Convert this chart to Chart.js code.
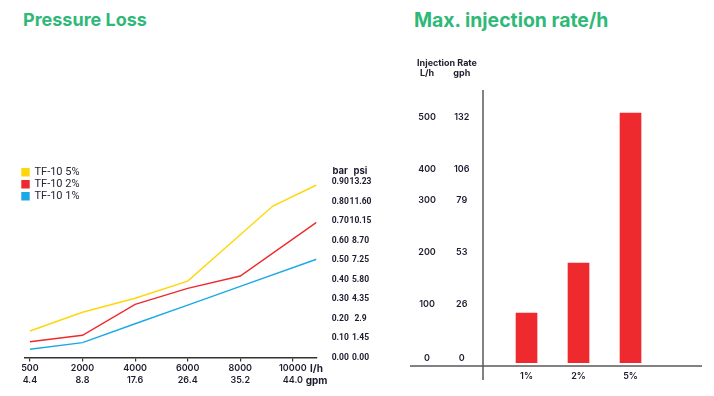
<!DOCTYPE html>
<html><head><meta charset="utf-8">
<script src="https://cdn.jsdelivr.net/npm/chart.js@4"></script>
<style>
html,body{margin:0;padding:0;background:#fff;width:714px;height:396px;overflow:hidden;font-family:Inter,sans-serif}
.t{position:absolute;font-weight:700;color:#2fb978;line-height:1;white-space:nowrap;font-family:Inter,sans-serif}
#w1{position:absolute;left:0;top:0;width:400px;height:396px}
#w2{position:absolute;left:400px;top:0;width:314px;height:396px}
</style></head><body>
<div class="t" style="left:23px;top:11px;font-size:18px">Pressure Loss</div>
<div class="t" style="left:414px;top:11px;font-size:19.4px">Max. injection rate/h</div>
<div id="w1"><canvas id="c1"></canvas></div>
<div id="w2"><canvas id="c2"></canvas></div>
<script>
// ---- Pressure loss data ----
const flowLh = ['500','2000','4000','6000','8000','10000'];
const flowGpm = ['4.4','8.8','17.6','26.4','35.2','44.0'];
const unitLabels = ['l/h','gpm'];
const barTicks = [0,0.1,0.2,0.3,0.4,0.5,0.6,0.7,0.8,0.9];
const barLabels = ['0.00','0.10','0.20','0.30','0.40','0.50','0.60','0.70','0.80','0.90'];
const psiLabels = ['0.00','1.45','2.9','4.35','5.80','7.25','8.70','10.15','11.60','13.23'];
const seriesNames = ['TF-10 5%','TF-10 2%','TF-10 1%'];
const tf5X = [0,1,2,3,4.62,5.45];
const tf5Y = [0.136,0.232,0.304,0.392,0.777,0.885];
const tf2X = [0,1,2,3,4,5.45];
const tf2Y = [0.081,0.114,0.273,0.355,0.418,0.693];
const tf1X = [0,1,2,3,4,5.45];
const tf1Y = [0.042,0.076,0.173,0.269,0.365,0.504];

// ---- Injection rate data ----
const injCategories = ['1%','2%','5%'];
const injValues = [100,200,500];
const injLh = ['0','100','200','300','400','500'];
const injGph = ['0','26','53','79','106','132'];
const injTickPos = [9,117,221,325,387,491];

const YEL = '#ffd60a', RED = '#ee2a2f', BLUE = '#1ba9e6';
const TXT = '#1f1a2e';
const FAM = 'Roboto, sans-serif';
const FAM2 = 'Inter, sans-serif';

function pts(xs, ys){ return xs.map((x,i)=>({x:x, y:ys[i]})); }
function widest(ctx, labels){ return Math.max(...labels.map(l=>ctx.measureText(l).width)); }

const colFont = {family: FAM, size: 8.5, weight: '700', lineHeight: 1.2};
const xFont = {family: FAM2, size: 9, weight: '600', lineHeight: 1.3};
const injFont = {family: FAM2, size: 9, weight: '600', lineHeight: 1.2};
const fstr = f => f.weight + ' ' + f.size + 'px ' + f.family;

const header1 = {
  id:'header1',
  afterLayout(chart){
    const l = chart.legend, a = chart.chartArea;
    l.top = a.top; l.bottom = a.bottom; l.left = a.left - 4;
  },
  afterDraw(chart){
    const ctx = chart.ctx, sb = chart.scales.yBar, sp = chart.scales.yPsi;
    ctx.save();
    ctx.font = fstr(colFont);
    const wb = widest(ctx, barLabels), wp = widest(ctx, psiLabels);
    ctx.font = '700 9.5px ' + FAM2;
    ctx.fillStyle = TXT; ctx.textAlign = 'center'; ctx.textBaseline = 'middle';
    const y = sb.getPixelForValue(barTicks[barTicks.length-1]) - 11;
    ctx.fillText('bar', sb.left + sb.options.ticks.padding + wb/2, y);
    ctx.fillText('psi', sp.left + sp.options.ticks.padding + wp/2, y);
    ctx.restore();
  }
};

const header2 = {
  id:'header2',
  beforeDatasetsDraw(chart){
    const ctx = chart.ctx, a = chart.chartArea, sl = chart.scales.yL, sg = chart.scales.yG;
    ctx.save();
    ctx.strokeStyle = '#5a5a5a'; ctx.lineWidth = 1.5;
    ctx.beginPath();
    ctx.moveTo(a.left, a.top); ctx.lineTo(a.left, a.bottom + 17);
    ctx.moveTo(sl.left, a.bottom + 3); ctx.lineTo(a.right, a.bottom + 3);
    ctx.stroke();
    ctx.font = fstr(injFont);
    const cl = sl.right - sl.options.ticks.padding - widest(ctx, injLh)/2;
    const cg = sg.right - sg.options.ticks.padding - widest(ctx, injGph)/2;
    ctx.font = '700 9px ' + FAM2;
    ctx.fillStyle = TXT; ctx.textBaseline = 'middle';
    ctx.textAlign = 'left';
    ctx.fillText('Injection Rate', cl - 10, 63);
    ctx.textAlign = 'center';
    ctx.fillText('L/h', cl, 73.5);
    ctx.fillText('gph', cg, 73.5);
    ctx.restore();
  }
};

new Chart(document.getElementById('c1'), {
  type: 'line',
  data: { datasets: [
    {label: seriesNames[0], data: pts(tf5X, tf5Y), borderColor: YEL, backgroundColor: YEL, yAxisID: 'yBar'},
    {label: seriesNames[1], data: pts(tf2X, tf2Y), borderColor: RED, backgroundColor: RED, yAxisID: 'yBar'},
    {label: seriesNames[2], data: pts(tf1X, tf1Y), borderColor: BLUE, backgroundColor: BLUE, yAxisID: 'yBar'}
  ]},
  options: {
    responsive: true, maintainAspectRatio: false, animation: false,
    layout: {padding: {left: 25, right: 21, top: 165.7, bottom: 0}},
    elements: {point: {radius: 0}, line: {borderWidth: 1.4, tension: 0}},
    plugins: {
      legend: {position: 'chartArea', align: 'start',
        labels: {boxWidth: 7, boxHeight: 7, padding: 1, color: '#2a2335', font: {family: FAM, size: 11}}},
      tooltip: {enabled: false}
    },
    scales: {
      x: {type: 'linear', min: -0.094, max: 5.45, offset: false,
        afterBuildTicks: s => { s.ticks = flowLh.map((_, i) => ({value: i})).concat([{value: 5.45}]); },
        afterFit: s => { s.height = 38.5; },
        ticks: {autoSkip: false, maxRotation: 0, padding: 1, color: TXT,
          font: c => c.index === flowLh.length ? {family: FAM2, size: 10, weight: '700', lineHeight: 1.2} : xFont,
          callback: (v, i) => i < flowLh.length ? [flowLh[i], flowGpm[i]] : unitLabels},
        grid: {drawOnChartArea: false, drawTicks: true, tickLength: 4,
          color: c => c.index === flowLh.length ? 'rgba(0,0,0,0)' : '#333', lineWidth: 1.2},
        border: {display: true, color: '#333', width: 1.6}
      },
      yBar: {position: 'right', min: 0, max: 0.984,
        afterBuildTicks: s => { s.ticks = barTicks.map(v => ({value: v})); },
        afterFit: s => { s.width = 32.5; },
        ticks: {crossAlign: 'center', padding: 15.2, color: TXT, font: colFont, callback: (v, i) => barLabels[i]},
        grid: {display: false, drawTicks: false}, border: {display: false}
      },
      yPsi: {position: 'right', min: 0, max: 0.984,
        afterBuildTicks: s => { s.ticks = barTicks.map(v => ({value: v})); },
        afterFit: s => { s.width = 30; },
        ticks: {crossAlign: 'center', padding: 0.5, color: TXT, font: colFont, callback: (v, i) => psiLabels[i]},
        grid: {display: false, drawTicks: false}, border: {display: false}
      }
    }
  },
  plugins: [header1]
});

new Chart(document.getElementById('c2'), {
  type: 'bar',
  data: { datasets: [
    {label: 'Max. injection rate', data: pts(injCategories.map((_, i) => i + 1), injValues),
     backgroundColor: RED, barThickness: 21, yAxisID: 'yL'}
  ]},
  options: {
    responsive: true, maintainAspectRatio: false, animation: false,
    layout: {padding: {left: 10, right: 12, top: 90, bottom: 0}},
    plugins: {legend: {display: false}, tooltip: {enabled: false}},
    scales: {
      x: {type: 'linear', min: 0.163, max: 4.375, offset: false,
        afterBuildTicks: s => { s.ticks = injCategories.map((_, i) => ({value: i + 1})); },
        afterFit: s => { s.height = 33; },
        ticks: {autoSkip: false, maxRotation: 0, padding: 8, color: TXT, font: injFont, callback: (v, i) => injCategories[i]},
        grid: {display: false, drawTicks: false}, border: {display: false}
      },
      yL: {position: 'left', min: 0, max: 546, weight: 2,
        afterBuildTicks: s => { s.ticks = injTickPos.map(v => ({value: v})); },
        afterFit: s => { s.width = 30; },
        ticks: {crossAlign: 'center', padding: 4, color: TXT, font: injFont, callback: (v, i) => injLh[i]},
        grid: {display: false, drawTicks: false}, border: {display: false}
      },
      yG: {position: 'left', min: 0, max: 546, weight: 1,
        afterBuildTicks: s => { s.ticks = injTickPos.map(v => ({value: v})); },
        afterFit: s => { s.width = 43; },
        ticks: {crossAlign: 'center', padding: 13.5, color: TXT, font: injFont, callback: (v, i) => injGph[i]},
        grid: {display: false, drawTicks: false}, border: {display: false}
      }
    }
  },
  plugins: [header2]
});
</script>
</body></html>
